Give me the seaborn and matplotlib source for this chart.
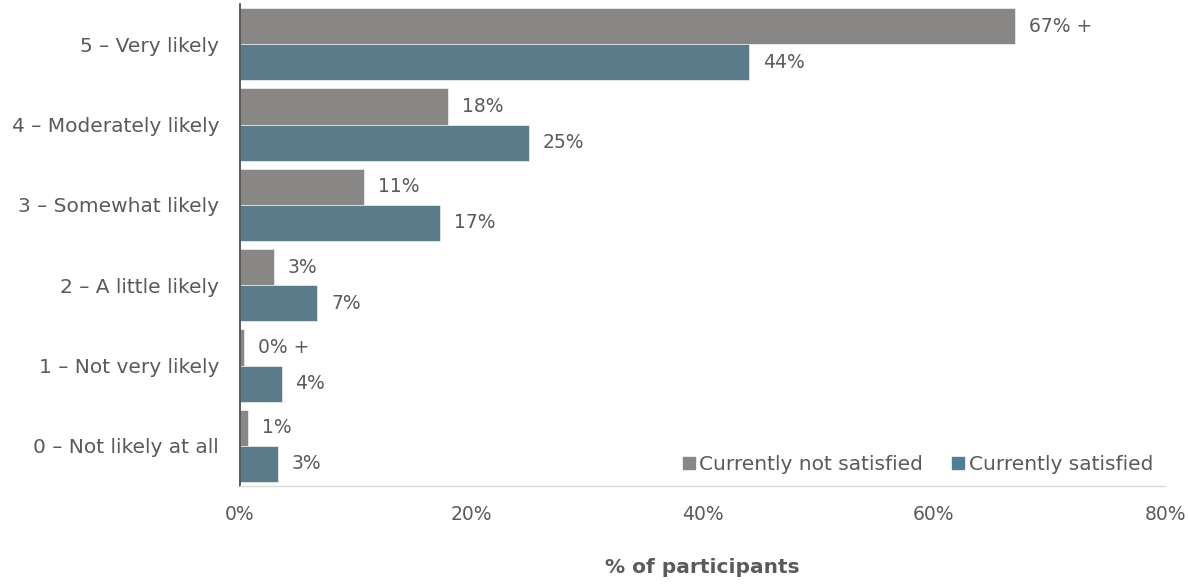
import matplotlib
matplotlib.use("Agg")
import matplotlib.pyplot as plt
from matplotlib.lines import Line2D
import seaborn as sns
import pandas as pd

# Survey responses: likelihood rating vs. current satisfaction
categories = [
    "5 – Very likely",
    "4 – Moderately likely",
    "3 – Somewhat likely",
    "2 – A little likely",
    "1 – Not very likely",
    "0 – Not likely at all",
]
groups = ["Currently not satisfied", "Currently satisfied"]
not_satisfied = [67, 18, 10.7, 2.9, 0.35, 0.7]
satisfied = [44, 25, 17.3, 6.7, 3.6, 3.3]
# significance markers shown next to the "not satisfied" values
not_satisfied_flags = ["+", "", "", "", "+", ""]
satisfied_flags = ["", "", "", "", "", ""]
x_ticks = [0, 20, 40, 60, 80]

colors = {"Currently not satisfied": "#8a8685", "Currently satisfied": "#537d92"}
text_color = "#5a5a5a"

df = pd.DataFrame({
    "category": categories * 2,
    "group": [groups[0]] * len(categories) + [groups[1]] * len(categories),
    "value": not_satisfied + satisfied,
})

sns.set_theme(style="white")
plt.rcParams["font.family"] = ["DejaVu Sans"]

fig = plt.figure(figsize=(11.88, 5.84), dpi=100)
ax = fig.add_axes([240 / 1188, 1 - 486 / 584, (1165 - 240) / 1188, (486 - 4) / 584])

sns.barplot(
    data=df, y="category", x="value", hue="group", order=categories,
    hue_order=groups, palette=colors, orient="h", width=0.9,
    edgecolor="white", linewidth=0.4, legend=False, ax=ax,
)

# value labels to the right of each bar
for container, vals, flags in zip(ax.containers, [not_satisfied, satisfied],
                                  [not_satisfied_flags, satisfied_flags]):
    labels = [f"{v:.0f}%" + (f" {f}" if f else "") for v, f in zip(vals, flags)]
    ax.bar_label(container, labels=labels, padding=10, fontsize=13.5,
                 color=text_color)

ax.set_xlim(0, 80)
ax.set_xticks(x_ticks)
ax.set_xticklabels([f"{t}%" for t in x_ticks])
ax.set_ylabel("")
ax.set_xlabel("% of participants", fontsize=14.5, fontweight="bold",
              color=text_color, labelpad=24)
ax.tick_params(axis="x", length=0, pad=14, labelsize=13.5, labelcolor=text_color)
ax.tick_params(axis="y", length=0, pad=15, labelsize=14.5, labelcolor=text_color)

for side in ["top", "right"]:
    ax.spines[side].set_visible(False)
ax.spines["left"].set_color("#404040")
ax.spines["left"].set_linewidth(1.2)
ax.spines["bottom"].set_color("#d9d9d9")
ax.spines["bottom"].set_linewidth(1.0)

handles = [Line2D([], [], marker="s", linestyle="none", markersize=8,
                  markerfacecolor=colors[g], markeredgecolor=colors[g])
           for g in groups]
ax.legend(handles, groups, loc="lower right", bbox_to_anchor=(1.0, 0.0),
          ncol=2, frameon=False, fontsize=14.5, labelcolor=text_color,
          handletextpad=0.15, columnspacing=1.4, borderaxespad=0.2,
          handlelength=0.7)

fig.savefig("out.png", dpi=100)
